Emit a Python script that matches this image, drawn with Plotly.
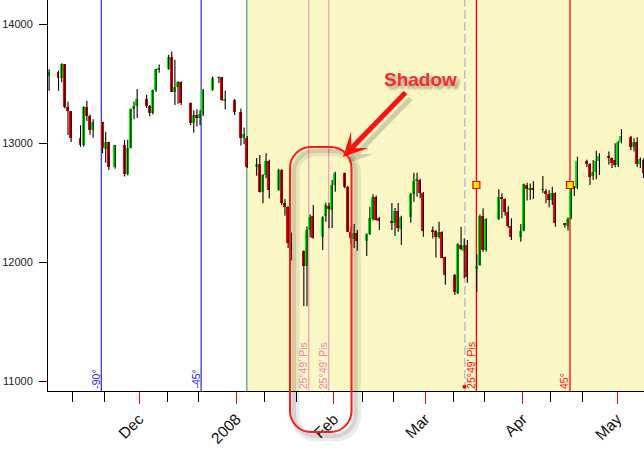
import plotly.graph_objects as go
import pandas as pd

# ---------------- data ----------------
dates = [
    "2007-11-02", "2007-11-05", "2007-11-06", "2007-11-07", "2007-11-08", "2007-11-09",
    "2007-11-12", "2007-11-13", "2007-11-14", "2007-11-15", "2007-11-16",
    "2007-11-19", "2007-11-20", "2007-11-21", "2007-11-23",
    "2007-11-26", "2007-11-27", "2007-11-28", "2007-11-29", "2007-11-30",
    "2007-12-03", "2007-12-04", "2007-12-05", "2007-12-06", "2007-12-07",
    "2007-12-10", "2007-12-11", "2007-12-12", "2007-12-13", "2007-12-14",
    "2007-12-17", "2007-12-18", "2007-12-19", "2007-12-20", "2007-12-21",
    "2007-12-24", "2007-12-26", "2007-12-27", "2007-12-28", "2007-12-31",
    "2008-01-02", "2008-01-03", "2008-01-04",
    "2008-01-07", "2008-01-08", "2008-01-09", "2008-01-10", "2008-01-11",
    "2008-01-14", "2008-01-15", "2008-01-16", "2008-01-17", "2008-01-18",
    "2008-01-22", "2008-01-23", "2008-01-24", "2008-01-25",
    "2008-01-28", "2008-01-29", "2008-01-30", "2008-01-31", "2008-02-01",
    "2008-02-04", "2008-02-05", "2008-02-06", "2008-02-07", "2008-02-08",
    "2008-02-11", "2008-02-12", "2008-02-13", "2008-02-14", "2008-02-15",
    "2008-02-19", "2008-02-20", "2008-02-21", "2008-02-22",
    "2008-02-25", "2008-02-26", "2008-02-27", "2008-02-28", "2008-02-29",
    "2008-03-03", "2008-03-04", "2008-03-05", "2008-03-06", "2008-03-07",
    "2008-03-10", "2008-03-11", "2008-03-12", "2008-03-13", "2008-03-14",
    "2008-03-17", "2008-03-18", "2008-03-19", "2008-03-20",
    "2008-03-24", "2008-03-25", "2008-03-26", "2008-03-27", "2008-03-28",
    "2008-03-31", "2008-04-01", "2008-04-02", "2008-04-03", "2008-04-04",
    "2008-04-07", "2008-04-08", "2008-04-09", "2008-04-10", "2008-04-11",
    "2008-04-14", "2008-04-15", "2008-04-16", "2008-04-17", "2008-04-18",
    "2008-04-21", "2008-04-22", "2008-04-23", "2008-04-24", "2008-04-25",
    "2008-04-28", "2008-04-29", "2008-04-30", "2008-05-01", "2008-05-02",
    "2008-05-05", "2008-05-06", "2008-05-07", "2008-05-08", "2008-05-09",
]
opens = [
    13567, 13595, 13543, 13660, 13300, 13266,
    13042, 12987, 13307, 13231, 13110,
    13176, 12950, 13010, 12799,
    12981, 12743, 12958, 13289, 13311,
    13372, 13315, 13249, 13445, 13620,
    13625, 13727, 13432, 13473, 13517,
    13339, 13167, 13232, 13207, 13245,
    13450, 13550, 13551, 13359, 13365,
    13262, 13044, 13040,
    12800, 12827, 12589, 12735, 12853,
    12606, 12778, 12501, 12467, 12159,
    12097, 11968, 12270, 12388,
    12209, 12388, 12472, 12438, 12648,
    12746, 12634, 12256, 12193, 12243,
    12181, 12237, 12360, 12550, 12374,
    12348, 12327, 12430, 12279,
    12382, 12573, 12684, 12690, 12579,
    12266, 12265, 12209, 12256, 12041,
    11893, 11739, 12145, 12097, 12145,
    11943, 11977, 12388, 12103,
    12360, 12545, 12528, 12424, 12304,
    12214, 12262, 12648, 12612, 12620,
    12610, 12598, 12573, 12522, 12579,
    12327, 12304, 12369, 12620, 12626,
    12850, 12825, 12727, 12760, 12850,
    12894, 12872, 12858, 12816, 13012,
    13049, 12970, 13012, 12822, 12858,
]
highs = [
    13620, 13610, 13670, 13665, 13348, 13270,
    13150, 13310, 13355, 13240, 13200,
    13180, 13095, 13012, 12985,
    13025, 13030, 13290, 13350, 13455,
    13404, 13320, 13450, 13625, 13660,
    13740, 13770, 13700, 13520, 13520,
    13340, 13275, 13285, 13280, 13455,
    13560, 13560, 13555, 13440, 13370,
    13290, 13130, 13060,
    12875, 12900, 12740, 12915, 12860,
    12785, 12780, 12530, 12470, 12250,
    12100, 12300, 12400, 12480,
    12385, 12500, 12500, 12690, 12760,
    12750, 12640, 12300, 12321, 12270,
    12240, 12466, 12570, 12560, 12380,
    12497, 12455, 12497, 12390,
    12580, 12751, 12751, 12700, 12590,
    12300, 12270, 12340, 12260, 12045,
    11900, 12160, 12298, 12200, 12187,
    12069, 12400, 12453, 12370,
    12612, 12579, 12535, 12470, 12369,
    12321, 12660, 12668, 12660, 12680,
    12724, 12615, 12606, 12634, 12585,
    12330, 12377, 12625, 12640, 12886,
    12860, 12830, 12858, 12936, 12914,
    12930, 12880, 12998, 13020, 13118,
    13060, 13040, 13050, 12880, 12870,
]
lows = [
    13440, 13440, 13510, 13290, 13068, 13010,
    12970, 12970, 13185, 13070, 13045,
    12915, 12835, 12775, 12785,
    12720, 12730, 12955, 13200, 13210,
    13295, 13225, 13240, 13430, 13590,
    13615, 13430, 13320, 13330, 13320,
    13150, 13087, 13140, 13150, 13228,
    13440, 13505, 13355, 13285, 13235,
    12980, 12990, 12790,
    12725, 12585, 12495, 12705, 12535,
    12600, 12480, 12390, 12120, 12015,
    11630, 11630, 12210, 12200,
    12103, 12340, 12285, 12287, 12592,
    12620, 12255, 12150, 12119, 12097,
    12052, 12228, 12350, 12350, 12270,
    12270, 12220, 12256, 12144,
    12332, 12508, 12550, 12537, 12214,
    12200, 12040, 12200, 12030, 11810,
    11725, 11730, 12100, 11865, 11828,
    11752, 11970, 12088, 12090,
    12354, 12369, 12390, 12290, 12186,
    12172, 12260, 12517, 12525, 12530,
    12580, 12495, 12461, 12480, 12298,
    12290, 12265, 12360, 12556, 12615,
    12800, 12648, 12690, 12696, 12732,
    12820, 12790, 12797, 12800, 12998,
    12940, 12930, 12800, 12790, 12707,
]
closes = [
    13595, 13543, 13660, 13300, 13266, 13042,
    12987, 13307, 13231, 13110, 13176,
    12958, 13010, 12799, 12981,
    12743, 12958, 13289, 13311, 13372,
    13315, 13249, 13445, 13620, 13625,
    13727, 13432, 13473, 13517, 13339,
    13167, 13232, 13207, 13245, 13450,
    13550, 13553, 13359, 13365, 13265,
    13044, 13080, 12800,
    12827, 12589, 12735, 12853, 12606,
    12778, 12501, 12467, 12159, 12099,
    11968, 12270, 12382, 12207,
    12377, 12480, 12444, 12648, 12746,
    12629, 12256, 12200, 12249, 12178,
    12237, 12374, 12550, 12354, 12349,
    12337, 12430, 12285, 12382,
    12573, 12684, 12694, 12579, 12265,
    12258, 12214, 12256, 12035, 11893,
    11747, 12153, 12111, 12145, 11873,
    11971, 12388, 12103, 12360,
    12545, 12528, 12424, 12304, 12214,
    12262, 12657, 12612, 12626, 12612,
    12614, 12573, 12522, 12579, 12327,
    12310, 12360, 12620, 12632, 12850,
    12825, 12718, 12760, 12850, 12894,
    12872, 12830, 12816, 13012, 13062,
    12970, 13012, 12822, 12866, 12746,
]

x_range = ["2007-11-02 01:30", "2008-05-09 14:00"]
y_range = [10918.5, 14201.5]
y_ticks = [11000, 12000, 13000, 14000]
month_ticks = ["2007-12-01", "2008-01-01", "2008-02-01", "2008-03-01", "2008-04-01", "2008-05-01"]
month_labels = ["Dec", "2008", "Feb", "Mar", "Apr", "May"]
minor_ticks = ["2007-11-10", "2007-11-20", "2007-12-10", "2007-12-20",
               "2008-01-10", "2008-01-20", "2008-02-10", "2008-02-20",
               "2008-03-10", "2008-03-20", "2008-04-10", "2008-04-20"]

shade_start = "2008-01-04 07:00"

# vertical event lines and their labels
line_dates = ["2007-11-19 00:00", "2007-12-20 18:00", "2008-01-24 00:00",
              "2008-01-30 08:00", "2008-03-17 07:00", "2008-04-16 01:00"]
line_labels = ["-90°", "-45°", "25°49' Pis", "25°49' Pis", "25°49' Pis", "45°"]
line_colors = ["#0000C0", "#0000C0", "#F088B8", "#F088B8", "#FF0000", "#FF0000"]
label_colors = ["#2828F0", "#2828F0", "#F080B8", "#F080B8", "#FF1010", "#FF1010"]
dashed_date = "2008-03-13 15:00"

marker_dates = ["2008-03-17 07:00", "2008-04-16 01:00"]
marker_values = [12648, 12648]
dot_date = ["2008-03-13 12:00"]
dot_value = [10955]

GREEN = "#00F500"
RED = "#FF0000"

# ---------------- build figure ----------------
t = pd.to_datetime(dates)
body_x = t + pd.Timedelta(hours=6)
wick_x_pos = t + pd.Timedelta(hours=10)

wx, wy = [], []
for xx, lo, hi in zip(wick_x_pos, lows, highs):
    wx += [xx, xx, None]
    wy += [lo, hi, None]

base = [min(o, c) for o, c in zip(opens, closes)]
height = [max(abs(c - o), 4) for o, c in zip(opens, closes)]
colors = [GREEN if c >= o else RED for o, c in zip(opens, closes)]

fig = go.Figure()
fig.add_trace(go.Scatter(x=wx, y=wy, mode="lines", line=dict(color="black", width=1.1),
                         hoverinfo="skip", showlegend=False))
fig.add_trace(go.Bar(x=body_x, y=height, base=base, marker=dict(color=colors, line=dict(width=0)),
                     width=0.92 * 86400000, showlegend=False))
fig.add_trace(go.Scatter(x=marker_dates, y=marker_values, mode="markers",
                         marker=dict(symbol="square", size=7, color="#FFE800",
                                     line=dict(color="#FF0000", width=1.2)),
                         showlegend=False))
fig.add_trace(go.Scatter(x=dot_date, y=dot_value, mode="markers",
                         marker=dict(size=4, color="#FF0000"), showlegend=False))

shapes = []
shapes.append(dict(type="rect", xref="x", yref="paper", x0=shade_start, x1="2008-06-30",
                   y0=0, y1=1, fillcolor="#FCF8C6", line=dict(width=0), layer="below"))
shapes.append(dict(type="line", xref="x", yref="paper", x0=shade_start, x1=shade_start,
                   y0=0, y1=1, line=dict(color="#2C7F72", width=1), layer="below"))
for d, c in zip(line_dates, line_colors):
    shapes.append(dict(type="line", xref="x", yref="paper", x0=d, x1=d, y0=0, y1=1,
                       line=dict(color=c, width=1.3 if c == "#FF0000" else 1), layer="below"))
shapes.append(dict(type="line", xref="x", yref="paper", x0=dashed_date, x1=dashed_date, y0=0, y1=1,
                   line=dict(color="white", width=1.5), layer="below"))
shapes.append(dict(type="line", xref="x", yref="paper", x0=dashed_date, x1=dashed_date, y0=0, y1=1,
                   line=dict(color="#BDBDBD", width=1.5, dash="9px,3px"), layer="below"))

# rounded callout rectangle (pixel geometry converted to paper coords)
PL, PW, PH = 48, 596, 391


def px2paper(px, py):
    return (px - PL) / PW, (PH - py) / PH


def rounded_path(L, T, R, B, r, dx=0, dy=0):
    k = 0.5523 * r
    L, R, T, B = L + dx, R + dx, T + dy, B + dy
    pts = [
        ("M", [(L, B - r)]),
        ("L", [(L, T + r)]),
        ("C", [(L, T + r - k), (L + r - k, T), (L + r, T)]),
        ("L", [(R - r, T)]),
        ("C", [(R - r + k, T), (R, T + r - k), (R, T + r)]),
        ("L", [(R, B - r)]),
        ("C", [(R, B - r + k), (R - r + k, B), (R - r, B)]),
        ("L", [(L + r, B)]),
        ("C", [(L + r - k, B), (L, B - r + k), (L, B - r)]),
    ]
    s = ""
    for cmd, plist in pts:
        s += cmd + " ".join("%.5f,%.5f" % px2paper(a, b) for a, b in plist) + " "
    return s + "Z"


shapes.append(dict(type="path", xref="paper", yref="paper",
                   path=rounded_path(290, 147, 351.5, 432, 21, 5, 5),
                   line=dict(color="rgba(0,0,0,0.08)", width=9), layer="above"))
shapes.append(dict(type="path", xref="paper", yref="paper",
                   path=rounded_path(290, 147, 351.5, 432, 21, 4, 4),
                   line=dict(color="rgba(0,0,0,0.10)", width=4), layer="above"))
shapes.append(dict(type="path", xref="paper", yref="paper",
                   path=rounded_path(290, 147, 351.5, 432, 21),
                   line=dict(color="#FF1A1A", width=2), layer="above"))

annotations = []
for d, lab, c in zip(line_dates, line_labels, label_colors):
    annotations.append(dict(x=d, xref="x", y=0, yref="paper", text=lab, showarrow=False,
                            textangle=-90, xanchor="right", yanchor="bottom",
                            font=dict(family="Arial, Liberation Sans", size=10.5, color=c),
                            borderpad=0, xshift=1, yshift=1))

tip_x, tip_y = px2paper(343, 157)
for sh, col in [((5, -6), "rgba(60,60,60,0.22)"), ((0, 0), "#FF1111")]:
    annotations.append(dict(x=tip_x, y=tip_y, xref="paper", yref="paper", text="",
                            showarrow=True, ax=64, ay=-66, arrowhead=3, arrowsize=0.8,
                            arrowwidth=5, arrowcolor=col, xshift=sh[0], yshift=sh[1]))
sx, sy = px2paper(420, 67)
annotations.append(dict(x=sx, y=sy, xref="paper", yref="paper", text="Shadow", showarrow=False,
                        font=dict(family="Arial, Liberation Sans", size=19, color="#F22E2E",
                                  weight="bold", shadow="3px 3px 3px rgba(0,0,0,0.35)")))

fig.update_layout(
    width=644, height=465,
    margin=dict(l=48, r=0, t=0, b=74, autoexpand=False),
    paper_bgcolor="white", plot_bgcolor="white",
    showlegend=False, bargap=0,
    shapes=shapes, annotations=annotations,
    font=dict(family="Arial, Liberation Sans", color="#111"),
)
fig.update_xaxes(
    type="date", range=x_range, showgrid=False, zeroline=False,
    showline=True, linecolor="black", linewidth=1,
    tickmode="array", tickvals=month_ticks, ticktext=month_labels,
    ticks="outside", ticklen=12, tickcolor="#FF0000", tickwidth=1,
    tickangle=-45, tickfont=dict(size=15.5, color="#111"),
    minor=dict(tickmode="array", tickvals=minor_ticks, ticks="outside",
               ticklen=10, tickcolor="black", tickwidth=1, showgrid=False),
)
fig.update_yaxes(
    range=y_range, showgrid=False, zeroline=False,
    showline=True, linecolor="black", linewidth=1,
    tickmode="array", tickvals=y_ticks, ticks="outside", ticklen=8,
    tickformat="d",
    tickcolor="black", tickfont=dict(size=11, color="#222"), ticklabelstandoff=4,
)

fig.write_html("out.html", config={"displayModeBar": False},
               post_script="document.body.style.margin='0';")
